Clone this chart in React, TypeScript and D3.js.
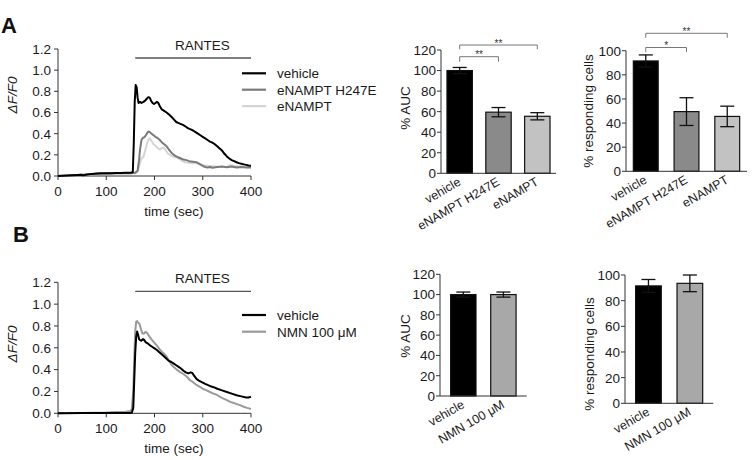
import React from "react";
import * as d3 from "d3";

const FONT = "'Liberation Sans', Arial, Helvetica, sans-serif";

// ---- Calcium traces: [time (sec), ΔF/F0] ----
const traceVehicleA: [number, number][] = [
  [0, 0.0], [10, 0.003], [20, 0.005], [30, 0.008], [40, 0.01], [48, 0.012], [52, 0.006], [60, 0.014],
  [70, 0.02], [80, 0.024], [90, 0.025], [100, 0.025], [110, 0.027], [120, 0.028], [130, 0.028],
  [140, 0.03], [150, 0.03], [155, 0.035], [157, 0.3], [159, 0.7], [161, 0.86], [163, 0.84],
  [165, 0.74], [167, 0.69], [170, 0.7], [173, 0.69], [177, 0.7], [180, 0.71], [184, 0.73],
  [187, 0.745], [190, 0.74], [193, 0.71], [196, 0.69], [199, 0.68], [202, 0.69], [205, 0.7],
  [208, 0.69], [211, 0.66], [215, 0.63], [220, 0.615], [225, 0.6], [230, 0.58], [235, 0.56],
  [240, 0.535], [245, 0.51], [250, 0.5], [255, 0.49], [260, 0.48], [265, 0.465], [270, 0.45],
  [275, 0.44], [280, 0.43], [285, 0.415], [290, 0.4], [295, 0.385], [300, 0.37], [305, 0.355],
  [310, 0.34], [315, 0.325], [320, 0.315], [325, 0.3], [330, 0.28], [335, 0.26], [340, 0.24],
  [345, 0.21], [350, 0.185], [355, 0.165], [360, 0.15], [365, 0.14], [370, 0.13], [375, 0.122],
  [380, 0.115], [385, 0.11], [390, 0.105], [395, 0.1], [400, 0.097],
];
const traceH247EA: [number, number][] = [
  [0, 0.0], [20, 0.005], [40, 0.01], [60, 0.015], [80, 0.022], [100, 0.024], [120, 0.026],
  [140, 0.027], [150, 0.027], [160, 0.03], [165, 0.05], [168, 0.15], [170, 0.25], [173, 0.34],
  [176, 0.36], [180, 0.37], [184, 0.4], [187, 0.42], [190, 0.415], [194, 0.4], [198, 0.385],
  [202, 0.37], [206, 0.36], [210, 0.345], [215, 0.32], [220, 0.3], [225, 0.28], [230, 0.25],
  [235, 0.22], [240, 0.2], [245, 0.185], [250, 0.175], [255, 0.165], [260, 0.155], [266, 0.15],
  [272, 0.14], [280, 0.135], [287, 0.13], [293, 0.115], [300, 0.095], [305, 0.085], [310, 0.08],
  [315, 0.085], [320, 0.078], [330, 0.085], [340, 0.09], [350, 0.083], [360, 0.09], [370, 0.08],
  [380, 0.086], [390, 0.08], [400, 0.08],
];
const traceENamptA: [number, number][] = [
  [0, 0.0], [20, 0.004], [40, 0.009], [60, 0.014], [80, 0.02], [100, 0.022], [120, 0.024],
  [140, 0.025], [160, 0.025], [165, 0.04], [170, 0.12], [173, 0.17], [177, 0.18], [180, 0.23],
  [184, 0.3], [187, 0.34], [190, 0.355], [194, 0.33], [198, 0.3], [201, 0.29], [205, 0.27],
  [208, 0.26], [211, 0.25], [214, 0.26], [218, 0.27], [222, 0.25], [228, 0.21], [235, 0.19],
  [240, 0.18], [246, 0.175], [252, 0.16], [258, 0.14], [263, 0.13], [270, 0.125], [280, 0.12],
  [287, 0.12], [295, 0.11], [305, 0.1], [315, 0.095], [325, 0.09], [335, 0.085], [345, 0.085],
  [352, 0.09], [357, 0.105], [362, 0.095], [370, 0.09], [380, 0.09], [390, 0.09], [400, 0.09],
];
const traceVehicleB: [number, number][] = [
  [0, 0.0], [50, 0.002], [100, 0.002], [150, 0.002], [153, 0.006], [156, 0.05], [158, 0.3],
  [160, 0.55], [162, 0.7], [164, 0.75], [166, 0.72], [168, 0.68], [170, 0.67], [173, 0.665],
  [176, 0.68], [179, 0.67], [182, 0.65], [186, 0.64], [190, 0.625], [195, 0.61], [200, 0.595],
  [205, 0.58], [210, 0.56], [215, 0.54], [220, 0.52], [225, 0.5], [230, 0.48], [235, 0.47],
  [240, 0.455], [245, 0.44], [250, 0.425], [255, 0.41], [260, 0.39], [265, 0.375], [270, 0.365],
  [275, 0.375], [278, 0.37], [282, 0.345], [287, 0.315], [292, 0.3], [298, 0.285], [305, 0.27],
  [310, 0.26], [318, 0.245], [325, 0.235], [330, 0.225], [340, 0.21], [350, 0.195], [360, 0.18],
  [370, 0.165], [380, 0.155], [390, 0.145], [395, 0.145], [400, 0.152],
];
const traceNMNB: [number, number][] = [
  [0, 0.0], [50, 0.003], [100, 0.008], [120, 0.012], [140, 0.015], [150, 0.02], [153, 0.04],
  [156, 0.2], [158, 0.5], [160, 0.75], [162, 0.84], [164, 0.845], [166, 0.83], [169, 0.82],
  [172, 0.77], [175, 0.73], [178, 0.73], [181, 0.745], [184, 0.74], [187, 0.72], [190, 0.7],
  [195, 0.67], [200, 0.645], [205, 0.62], [210, 0.59], [215, 0.565], [220, 0.545], [225, 0.52],
  [230, 0.48], [236, 0.44], [241, 0.42], [246, 0.4], [252, 0.38], [260, 0.36], [266, 0.34],
  [273, 0.305], [280, 0.285], [287, 0.26], [295, 0.24], [300, 0.225], [308, 0.21], [315, 0.195],
  [322, 0.18], [329, 0.17], [336, 0.15], [343, 0.135], [350, 0.12], [357, 0.105], [364, 0.095],
  [370, 0.085], [377, 0.075], [385, 0.06], [392, 0.05], [400, 0.04],
];

const lineTicksX = [0, 100, 200, 300, 400];
const lineTicksY = [0, 0.2, 0.4, 0.6, 0.8, 1.0, 1.2];
const stimulusWindow = [160, 400];

// ---- Bar data ----
const barCatsA = ["vehicle", "eNAMPT H247E", "eNAMPT"];
const aucMeanA = [100, 59.5, 55.5];
const aucErrA = [3, 4.5, 3.5];
const respMeanA = [91.5, 49.5, 45.5];
const respErrA = [5, 11.5, 8.5];

const barCatsB = ["vehicle", "NMN 100 μM"];
const aucMeanB = [100, 100];
const aucErrB = [2.5, 2.5];
const respMeanB = [91.5, 93.5];
const respErrB = [5, 6.5];

const aucTicks = [0, 20, 40, 60, 80, 100, 120];
const respTicks = [0, 20, 40, 60, 80, 100];

const TXT = "#1a1a1a";
const FS = 13.5;

type Trace = { data: [number, number][]; color: string; label: string };

function LineChart(props: {
  x0: number; x1: number; yBottom: number; yTop: number;
  traces: Trace[]; legendX: number; legendY: number; legendGap: number;
  labelY: number;
}) {
  const { x0, x1, yBottom, yTop, traces, legendX, legendY, legendGap, labelY } = props;
  const x = d3.scaleLinear().domain([0, 400]).range([x0, x1]);
  const y = d3.scaleLinear().domain([0, 1.2]).range([yBottom, yTop]);
  const line = d3.line<[number, number]>().x((d) => x(d[0])).y((d) => y(d[1]));
  const fmt = d3.format(".1f");
  const axisColor = "#333";
  return (
    <g fontFamily={FONT}>
      <line x1={x0} x2={x0} y1={yBottom} y2={yTop} stroke={axisColor} strokeWidth={1} />
      <line x1={x0} x2={x1} y1={yBottom} y2={yBottom} stroke={axisColor} strokeWidth={1} />
      {lineTicksY.map((t) => (
        <g key={"y" + t}>
          <line x1={x0 - 4} x2={x0} y1={y(t)} y2={y(t)} stroke={axisColor} />
          <text x={x0 - 7} y={y(t)} dy="0.36em" textAnchor="end" fontSize={FS} fill={TXT}>
            {fmt(t)}
          </text>
        </g>
      ))}
      {lineTicksX.map((t) => (
        <g key={"x" + t}>
          <line x1={x(t)} x2={x(t)} y1={yBottom} y2={yBottom + 4} stroke={axisColor} />
          <text x={x(t)} y={yBottom + 19.5} textAnchor="middle" fontSize={FS} fill={TXT}>
            {t}
          </text>
        </g>
      ))}
      <text x={174} y={yBottom + 40} textAnchor="middle" fontSize={FS} fill={TXT}>
        time (sec)
      </text>
      <text
        transform={`translate(17,${labelY}) rotate(-90)`}
        textAnchor="middle"
        fontSize={FS}
        fontStyle="italic"
        fill={TXT}
      >
        ΔF/F0
      </text>
      <line
        x1={x(stimulusWindow[0])}
        x2={x(stimulusWindow[1])}
        y1={yTop + 9}
        y2={yTop + 9}
        stroke="#555"
        strokeWidth={1.3}
      />
      <text x={202.5} y={yTop + 1} textAnchor="middle" fontSize={FS} fill={TXT}>
        RANTES
      </text>
      {traces.map((tr) => (
        <path key={tr.label} d={line(tr.data) || ""} fill="none" stroke={tr.color} strokeWidth={2} strokeLinejoin="round" />
      ))}
      {[...traces].reverse().map((tr, i) => (
        <g key={"lg" + tr.label}>
          <line
            x1={legendX}
            x2={legendX + 24}
            y1={legendY + i * legendGap}
            y2={legendY + i * legendGap}
            stroke={tr.color}
            strokeWidth={2.2}
          />
          <text x={legendX + 35} y={legendY + i * legendGap} dy="0.36em" fontSize={FS} fill={TXT}>
            {tr.label}
          </text>
        </g>
      ))}
    </g>
  );
}

type Bracket = { from: number; to: number; y: number; drop: number; label: string };

function BarChart(props: {
  axisX: number; axisEnd: number; y0: number; yTop: number; max: number; ticks: number[];
  cats: string[]; means: number[]; errs: number[]; colors: string[];
  padInner: number; padOuter: number;
  ylabel: string; ylabelX: number; ylabelY: number; brackets?: Bracket[];
}) {
  const { axisX, axisEnd, y0, yTop, max, ticks, cats, means, errs, colors, padInner, padOuter,
    ylabel, ylabelX, ylabelY, brackets = [] } = props;
  const x = d3.scaleBand<string>().domain(cats).range([axisX, axisEnd]).paddingInner(padInner).paddingOuter(padOuter);
  const y = d3.scaleLinear().domain([0, max]).range([y0, yTop]);
  const bw = x.bandwidth();
  const axisColor = "#333";
  const cx = (i: number) => (x(cats[i]) as number) + bw / 2;
  return (
    <g fontFamily={FONT}>
      {cats.map((c, i) => (
        <rect
          key={c}
          x={x(c)}
          y={y(means[i])}
          width={bw}
          height={y0 - y(means[i])}
          fill={colors[i]}
          stroke="#111"
          strokeWidth={1.2}
        />
      ))}
      {cats.map((c, i) => {
        const hi = y(means[i] + errs[i]);
        const lo = y(means[i] - errs[i]);
        const xc = cx(i);
        return (
          <g key={"e" + c} stroke="#111" strokeWidth={1.3}>
            <line x1={xc} x2={xc} y1={hi} y2={lo} />
            <line x1={xc - 7} x2={xc + 7} y1={hi} y2={hi} />
            <line x1={xc - 7} x2={xc + 7} y1={lo} y2={lo} />
          </g>
        );
      })}
      <line x1={axisX} x2={axisX} y1={y0} y2={y(max)} stroke={axisColor} />
      <line x1={axisX} x2={axisEnd} y1={y0} y2={y0} stroke={axisColor} />
      {ticks.map((t) => (
        <g key={t}>
          <line x1={axisX - 4} x2={axisX} y1={y(t)} y2={y(t)} stroke={axisColor} />
          <text x={axisX - 5} y={y(t)} dy="0.36em" textAnchor="end" fontSize={FS} fill={TXT}>
            {t}
          </text>
        </g>
      ))}
      {cats.map((c, i) => (
        <text
          key={"l" + c}
          transform={`translate(${cx(i) + 2},${y0 + 11}) rotate(-30)`}
          textAnchor="end"
          fontSize={12.5}
          fill={TXT}
        >
          {c}
        </text>
      ))}
      <text
        transform={`translate(${ylabelX},${ylabelY}) rotate(-90)`}
        textAnchor="middle"
        fontSize={FS}
        fill={TXT}
      >
        {ylabel}
      </text>
      {brackets.map((b, k) => {
        const xa = cx(b.from);
        const xb = cx(b.to);
        return (
          <g key={"b" + k}>
            <path
              d={`M${xa},${b.y + b.drop}V${b.y}H${xb}V${b.y + b.drop}`}
              fill="none"
              stroke="#777"
              strokeWidth={1}
            />
            <text x={(xa + xb) / 2} y={b.y + 1.5} textAnchor="middle" fontSize={10} fill="#333">
              {b.label}
            </text>
          </g>
        );
      })}
    </g>
  );
}

export default function App() {
  return (
    <svg
      width={752}
      height={460}
      viewBox="0 0 752 460"
      style={{ position: "absolute", left: 0, top: 0, background: "#fff" }}
    >
      <rect width={752} height={460} fill="#fff" />
      <text x={1} y={33} fontFamily={FONT} fontWeight="bold" fontSize={22} fill="#111">A</text>
      <text x={13} y={242} fontFamily={FONT} fontWeight="bold" fontSize={22} fill="#111">B</text>

      <LineChart
        x0={58}
        x1={251}
        yBottom={176}
        yTop={49}
        labelY={95}
        legendX={242}
        legendY={73.3}
        legendGap={16.4}
        traces={[
          { data: traceENamptA, color: "#d4d4d4", label: "eNAMPT" },
          { data: traceH247EA, color: "#7a7a7a", label: "eNAMPT H247E" },
          { data: traceVehicleA, color: "#000", label: "vehicle" },
        ]}
      />
      <LineChart
        x0={58}
        x1={251}
        yBottom={413.3}
        yTop={282.3}
        labelY={344}
        legendX={242}
        legendY={315}
        legendGap={16.7}
        traces={[
          { data: traceNMNB, color: "#9a9a9a", label: "NMN 100 μM" },
          { data: traceVehicleB, color: "#000", label: "vehicle" },
        ]}
      />

      <BarChart
        axisX={441}
        axisEnd={556}
        y0={173.3}
        yTop={50}
        max={120}
        ticks={aucTicks}
        cats={barCatsA}
        means={aucMeanA}
        errs={aucErrA}
        colors={["#000", "#8a8a8a", "#c2c2c2"]}
        padInner={0.346}
        padOuter={0.154}
        ylabel="% AUC"
        ylabelX={410}
        ylabelY={108}
        brackets={[
          { from: 0, to: 1, y: 56.7, drop: 5, label: "**" },
          { from: 0, to: 2, y: 45, drop: 4.3, label: "**" },
        ]}
      />
      <BarChart
        axisX={626}
        axisEnd={747}
        y0={171.3}
        yTop={50.7}
        max={100}
        ticks={respTicks}
        cats={barCatsA}
        means={respMeanA}
        errs={respErrA}
        colors={["#000", "#8a8a8a", "#c2c2c2"]}
        padInner={0.39}
        padOuter={0.18}
        ylabel="% responding cells"
        ylabelX={593}
        ylabelY={111}
        brackets={[
          { from: 0, to: 1, y: 47.5, drop: 4.5, label: "*" },
          { from: 0, to: 2, y: 33.3, drop: 4.4, label: "**" },
        ]}
      />

      <BarChart
        axisX={440}
        axisEnd={526.7}
        y0={396}
        yTop={274.3}
        max={120}
        ticks={aucTicks}
        cats={barCatsB}
        means={aucMeanB}
        errs={aucErrB}
        colors={["#000", "#a8a8a8"]}
        padInner={0.367}
        padOuter={0.265}
        ylabel="% AUC"
        ylabelX={410}
        ylabelY={336}
      />
      <BarChart
        axisX={625}
        axisEnd={713.3}
        y0={403.3}
        yTop={275}
        max={100}
        ticks={respTicks}
        cats={barCatsB}
        means={respMeanB}
        errs={respErrB}
        colors={["#000", "#a8a8a8"]}
        padInner={0.38}
        padOuter={0.256}
        ylabel="% responding cells"
        ylabelX={594}
        ylabelY={354}
      />
    </svg>
  );
}
